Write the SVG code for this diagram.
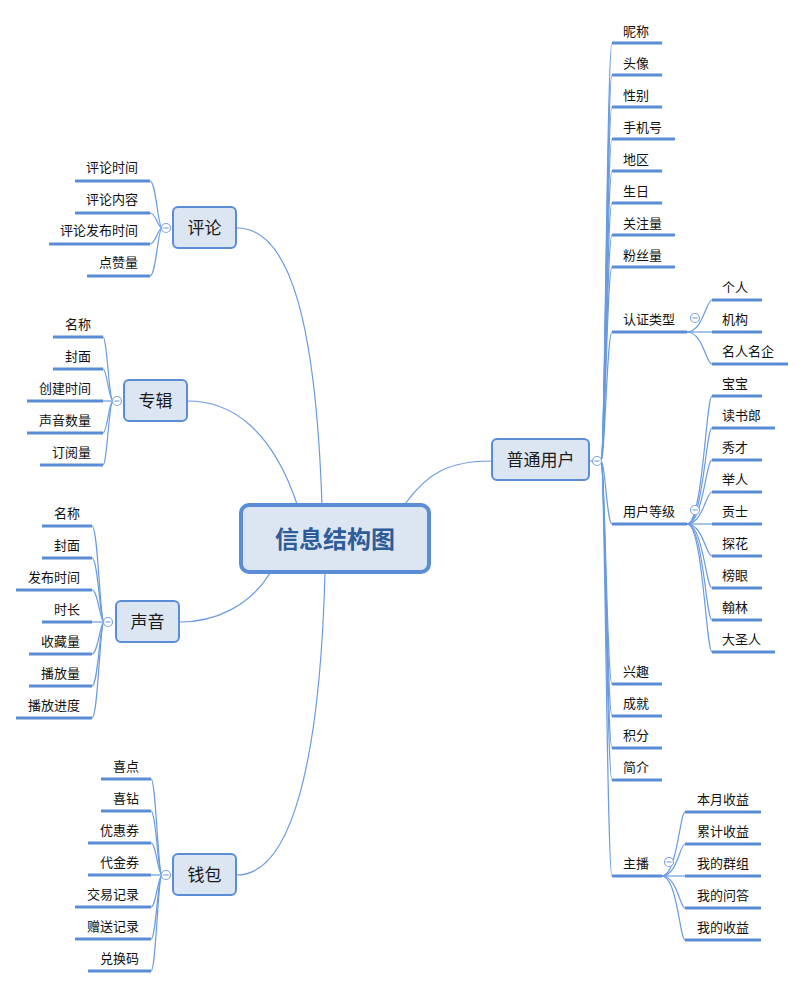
<svg xmlns="http://www.w3.org/2000/svg" width="804" height="988" viewBox="0 0 804 988">
<style>
.cn{fill:none;stroke:#6a9be0;stroke-width:1.2}
.ul{stroke:#5a8dd6;stroke-width:3}
.t{font-family:"Noto Sans CJK SC","Noto Sans",sans-serif;font-size:13px;fill:#111}
.r{text-anchor:end}
.mn rect{fill:#dce6f2;stroke:#5a8dd6;stroke-width:2}
.mt{font-family:"Noto Sans CJK SC","Noto Sans",sans-serif;font-size:17px;fill:#1a1a1a;text-anchor:middle}
.cc circle{fill:#fff;stroke:#7fa7e0;stroke-width:1.2}
.cc line{stroke:#7fa7e0;stroke-width:1.2}
</style>
<rect width="804" height="988" fill="#fff"/>
<g id="connectors">
<path class="cn" d="M322 505 C316 330 292 228 237 228"/>
<path class="cn" d="M297 504 C272 430 232 401 188 401"/>
<path class="cn" d="M270 573 C250 606 215 622 180 622"/>
<path class="cn" d="M325 573 C320 760 292 875 237 875"/>
<path class="cn" d="M405 504 C428 472 450 461 492 461"/>
<path class="cn" d="M589 461 L592 461"/>
<path class="cn" d="M601 461 C605 461 607 43 612 43"/>
<path class="cn" d="M601 461 C605 461 607 75 612 75"/>
<path class="cn" d="M601 461 C605 461 607 107 612 107"/>
<path class="cn" d="M601 461 C605 461 607 139 612 139"/>
<path class="cn" d="M601 461 C605 461 607 171 612 171"/>
<path class="cn" d="M601 461 C605 461 607 203 612 203"/>
<path class="cn" d="M601 461 C605 461 607 235 612 235"/>
<path class="cn" d="M601 461 C605 461 607 267 612 267"/>
<path class="cn" d="M601 461 C605 461 607 332 612 332"/>
<path class="cn" d="M601 461 C605 461 607 524 612 524"/>
<path class="cn" d="M601 461 C605 461 607 684 612 684"/>
<path class="cn" d="M601 461 C605 461 607 716 612 716"/>
<path class="cn" d="M601 461 C605 461 607 748 612 748"/>
<path class="cn" d="M601 461 C605 461 607 780 612 780"/>
<path class="cn" d="M601 461 C605 461 607 876 612 876"/>
<path class="cn" d="M687 332 C703 332 706 300 712 300"/>
<path class="cn" d="M687 332 L712 332"/>
<path class="cn" d="M687 332 C703 332 706 364 712 364"/>
<path class="cn" d="M687 524 C703 524 706 396 712 396"/>
<path class="cn" d="M687 524 C703 524 706 428 712 428"/>
<path class="cn" d="M687 524 C703 524 706 460 712 460"/>
<path class="cn" d="M687 524 C703 524 706 492 712 492"/>
<path class="cn" d="M687 524 L712 524"/>
<path class="cn" d="M687 524 C703 524 706 556 712 556"/>
<path class="cn" d="M687 524 C703 524 706 588 712 588"/>
<path class="cn" d="M687 524 C703 524 706 620 712 620"/>
<path class="cn" d="M687 524 C703 524 706 652 712 652"/>
<path class="cn" d="M662 876 C677 876 680 812 685 812"/>
<path class="cn" d="M662 876 C677 876 680 844 685 844"/>
<path class="cn" d="M662 876 L685 876"/>
<path class="cn" d="M662 876 C677 876 680 908 685 908"/>
<path class="cn" d="M662 876 C677 876 680 940 685 940"/>
<path class="cn" d="M162 228 C158 228 156 181 150 181"/>
<path class="cn" d="M162 228 C158 228 156 213 150 213"/>
<path class="cn" d="M162 228 C158 228 156 244 150 244"/>
<path class="cn" d="M162 228 C158 228 156 276 150 276"/>
<path class="cn" d="M113 401 C109 401 107 337 103 337"/>
<path class="cn" d="M113 401 C109 401 107 369 103 369"/>
<path class="cn" d="M113 401 L103 401"/>
<path class="cn" d="M113 401 C109 401 107 433 103 433"/>
<path class="cn" d="M113 401 C109 401 107 465 103 465"/>
<path class="cn" d="M104 622 C100 622 98 526 92 526"/>
<path class="cn" d="M104 622 C100 622 98 558 92 558"/>
<path class="cn" d="M104 622 C100 622 98 590 92 590"/>
<path class="cn" d="M104 622 L92 622"/>
<path class="cn" d="M104 622 C100 622 98 654 92 654"/>
<path class="cn" d="M104 622 C100 622 98 686 92 686"/>
<path class="cn" d="M104 622 C100 622 98 718 92 718"/>
<path class="cn" d="M162 875 C158 875 156 779 151 779"/>
<path class="cn" d="M162 875 C158 875 156 811 151 811"/>
<path class="cn" d="M162 875 C158 875 156 843 151 843"/>
<path class="cn" d="M162 875 L151 875"/>
<path class="cn" d="M162 875 C158 875 156 907 151 907"/>
<path class="cn" d="M162 875 C158 875 156 939 151 939"/>
<path class="cn" d="M162 875 C158 875 156 971 151 971"/>
</g>

<g id="center">
<rect x="241" y="505" width="188" height="67" rx="8" fill="#dce6f2" stroke="#5a8dd6" stroke-width="4"/>
<text x="335" y="548" text-anchor="middle" font-family="'Noto Sans CJK SC','Noto Sans',sans-serif" font-size="24" font-weight="bold" fill="#2e5c99">信息结构图</text>
</g>

<g id="n-user" class="mn">
<rect x="492" y="439" width="97" height="41" rx="5"/>
<text class="mt" x="540.5" y="466">普通用户</text>
<g class="cc"><circle cx="597" cy="461" r="4.5"/><line x1="594.5" y1="461" x2="599.5" y2="461"/></g>
</g>
<g id="n-comment" class="mn">
<rect x="173" y="207" width="63" height="41" rx="5"/>
<text class="mt" x="204.5" y="234">评论</text>
<g class="cc"><circle cx="166" cy="228" r="4.5"/><line x1="163.5" y1="228" x2="168.5" y2="228"/></g>
</g>
<g id="n-album" class="mn">
<rect x="124" y="380" width="63" height="41" rx="5"/>
<text class="mt" x="155.5" y="407">专辑</text>
<g class="cc"><circle cx="117" cy="401" r="4.5"/><line x1="114.5" y1="401" x2="119.5" y2="401"/></g>
</g>
<g id="n-sound" class="mn">
<rect x="116" y="601" width="63" height="41" rx="5"/>
<text class="mt" x="147.5" y="628">声音</text>
<g class="cc"><circle cx="108" cy="622" r="4.5"/><line x1="105.5" y1="622" x2="110.5" y2="622"/></g>
</g>
<g id="n-wallet" class="mn">
<rect x="173" y="854" width="63" height="41" rx="5"/>
<text class="mt" x="204.5" y="881">钱包</text>
<g class="cc"><circle cx="166" cy="875" r="4.5"/><line x1="163.5" y1="875" x2="168.5" y2="875"/></g>
</g>

<g id="r-nick"><line class="ul" x1="612" y1="43" x2="662" y2="43"/><text class="t" x="623" y="36">昵称</text></g>
<g id="r-avatar"><line class="ul" x1="612" y1="75" x2="662" y2="75"/><text class="t" x="623" y="68">头像</text></g>
<g id="r-gender"><line class="ul" x1="612" y1="107" x2="662" y2="107"/><text class="t" x="623" y="100">性别</text></g>
<g id="r-phone"><line class="ul" x1="612" y1="139" x2="675" y2="139"/><text class="t" x="623" y="132">手机号</text></g>
<g id="r-region"><line class="ul" x1="612" y1="171" x2="662" y2="171"/><text class="t" x="623" y="164">地区</text></g>
<g id="r-birth"><line class="ul" x1="612" y1="203" x2="662" y2="203"/><text class="t" x="623" y="196">生日</text></g>
<g id="r-follow"><line class="ul" x1="612" y1="235" x2="675" y2="235"/><text class="t" x="623" y="228">关注量</text></g>
<g id="r-fans"><line class="ul" x1="612" y1="267" x2="675" y2="267"/><text class="t" x="623" y="260">粉丝量</text></g>
<g id="r-auth"><line class="ul" x1="612" y1="332" x2="687" y2="332"/><text class="t" x="623" y="324">认证类型</text>
<g class="cc"><circle cx="695" cy="318" r="4.5"/><line x1="692.5" y1="318" x2="697.5" y2="318"/></g></g>
<g id="r-auth-1"><line class="ul" x1="712" y1="300" x2="762" y2="300"/><text class="t" x="722" y="292">个人</text></g>
<g id="r-auth-2"><line class="ul" x1="712" y1="332" x2="762" y2="332"/><text class="t" x="722" y="324">机构</text></g>
<g id="r-auth-3"><line class="ul" x1="712" y1="364" x2="788" y2="364"/><text class="t" x="722" y="356">名人名企</text></g>
<g id="r-level"><line class="ul" x1="612" y1="524" x2="687" y2="524"/><text class="t" x="623" y="516">用户等级</text>
<g class="cc"><circle cx="695" cy="510" r="4.5"/><line x1="692.5" y1="510" x2="697.5" y2="510"/></g></g>
<g id="r-lv1"><line class="ul" x1="712" y1="396" x2="762" y2="396"/><text class="t" x="722" y="388">宝宝</text></g>
<g id="r-lv2"><line class="ul" x1="712" y1="428" x2="775" y2="428"/><text class="t" x="722" y="420">读书郎</text></g>
<g id="r-lv3"><line class="ul" x1="712" y1="460" x2="762" y2="460"/><text class="t" x="722" y="452">秀才</text></g>
<g id="r-lv4"><line class="ul" x1="712" y1="492" x2="762" y2="492"/><text class="t" x="722" y="484">举人</text></g>
<g id="r-lv5"><line class="ul" x1="712" y1="524" x2="762" y2="524"/><text class="t" x="722" y="516">贡士</text></g>
<g id="r-lv6"><line class="ul" x1="712" y1="556" x2="762" y2="556"/><text class="t" x="722" y="548">探花</text></g>
<g id="r-lv7"><line class="ul" x1="712" y1="588" x2="762" y2="588"/><text class="t" x="722" y="580">榜眼</text></g>
<g id="r-lv8"><line class="ul" x1="712" y1="620" x2="762" y2="620"/><text class="t" x="722" y="612">翰林</text></g>
<g id="r-lv9"><line class="ul" x1="712" y1="652" x2="775" y2="652"/><text class="t" x="722" y="644">大圣人</text></g>
<g id="r-interest"><line class="ul" x1="612" y1="684" x2="662" y2="684"/><text class="t" x="623" y="676">兴趣</text></g>
<g id="r-achieve"><line class="ul" x1="612" y1="716" x2="662" y2="716"/><text class="t" x="623" y="708">成就</text></g>
<g id="r-points"><line class="ul" x1="612" y1="748" x2="662" y2="748"/><text class="t" x="623" y="740">积分</text></g>
<g id="r-intro"><line class="ul" x1="612" y1="780" x2="662" y2="780"/><text class="t" x="623" y="772">简介</text></g>
<g id="r-host"><line class="ul" x1="612" y1="876" x2="662" y2="876"/><text class="t" x="623" y="868">主播</text>
<g class="cc"><circle cx="669" cy="862" r="4.5"/><line x1="666.5" y1="862" x2="671.5" y2="862"/></g></g>
<g id="r-host1"><line class="ul" x1="685" y1="812" x2="761" y2="812"/><text class="t" x="697" y="804">本月收益</text></g>
<g id="r-host2"><line class="ul" x1="685" y1="844" x2="761" y2="844"/><text class="t" x="697" y="836">累计收益</text></g>
<g id="r-host3"><line class="ul" x1="685" y1="876" x2="761" y2="876"/><text class="t" x="697" y="868">我的群组</text></g>
<g id="r-host4"><line class="ul" x1="685" y1="908" x2="761" y2="908"/><text class="t" x="697" y="900">我的问答</text></g>
<g id="r-host5"><line class="ul" x1="685" y1="940" x2="761" y2="940"/><text class="t" x="697" y="932">我的收益</text></g>

<g id="c1"><line class="ul" x1="75" y1="181" x2="150" y2="181"/><text class="t r" x="138" y="172">评论时间</text></g>
<g id="c2"><line class="ul" x1="75" y1="213" x2="150" y2="213"/><text class="t r" x="138" y="204">评论内容</text></g>
<g id="c3"><line class="ul" x1="49" y1="244" x2="150" y2="244"/><text class="t r" x="138" y="235">评论发布时间</text></g>
<g id="c4"><line class="ul" x1="87" y1="276" x2="150" y2="276"/><text class="t r" x="138" y="267">点赞量</text></g>

<g id="a1"><line class="ul" x1="53" y1="337" x2="103" y2="337"/><text class="t r" x="91" y="329">名称</text></g>
<g id="a2"><line class="ul" x1="53" y1="369" x2="103" y2="369"/><text class="t r" x="91" y="361">封面</text></g>
<g id="a3"><line class="ul" x1="27" y1="401" x2="103" y2="401"/><text class="t r" x="91" y="393">创建时间</text></g>
<g id="a4"><line class="ul" x1="27" y1="433" x2="103" y2="433"/><text class="t r" x="91" y="425">声音数量</text></g>
<g id="a5"><line class="ul" x1="40" y1="465" x2="103" y2="465"/><text class="t r" x="91" y="457">订阅量</text></g>

<g id="s1"><line class="ul" x1="42" y1="526" x2="92" y2="526"/><text class="t r" x="80" y="518">名称</text></g>
<g id="s2"><line class="ul" x1="42" y1="558" x2="92" y2="558"/><text class="t r" x="80" y="550">封面</text></g>
<g id="s3"><line class="ul" x1="16" y1="590" x2="92" y2="590"/><text class="t r" x="80" y="582">发布时间</text></g>
<g id="s4"><line class="ul" x1="42" y1="622" x2="92" y2="622"/><text class="t r" x="80" y="614">时长</text></g>
<g id="s5"><line class="ul" x1="29" y1="654" x2="92" y2="654"/><text class="t r" x="80" y="646">收藏量</text></g>
<g id="s6"><line class="ul" x1="29" y1="686" x2="92" y2="686"/><text class="t r" x="80" y="678">播放量</text></g>
<g id="s7"><line class="ul" x1="16" y1="718" x2="92" y2="718"/><text class="t r" x="80" y="710">播放进度</text></g>

<g id="w1"><line class="ul" x1="101" y1="779" x2="151" y2="779"/><text class="t r" x="139" y="771">喜点</text></g>
<g id="w2"><line class="ul" x1="101" y1="811" x2="151" y2="811"/><text class="t r" x="139" y="803">喜钻</text></g>
<g id="w3"><line class="ul" x1="88" y1="843" x2="151" y2="843"/><text class="t r" x="139" y="835">优惠券</text></g>
<g id="w4"><line class="ul" x1="88" y1="875" x2="151" y2="875"/><text class="t r" x="139" y="867">代金券</text></g>
<g id="w5"><line class="ul" x1="75" y1="907" x2="151" y2="907"/><text class="t r" x="139" y="899">交易记录</text></g>
<g id="w6"><line class="ul" x1="75" y1="939" x2="151" y2="939"/><text class="t r" x="139" y="931">赠送记录</text></g>
<g id="w7"><line class="ul" x1="88" y1="971" x2="151" y2="971"/><text class="t r" x="139" y="963">兑换码</text></g>
</svg>
